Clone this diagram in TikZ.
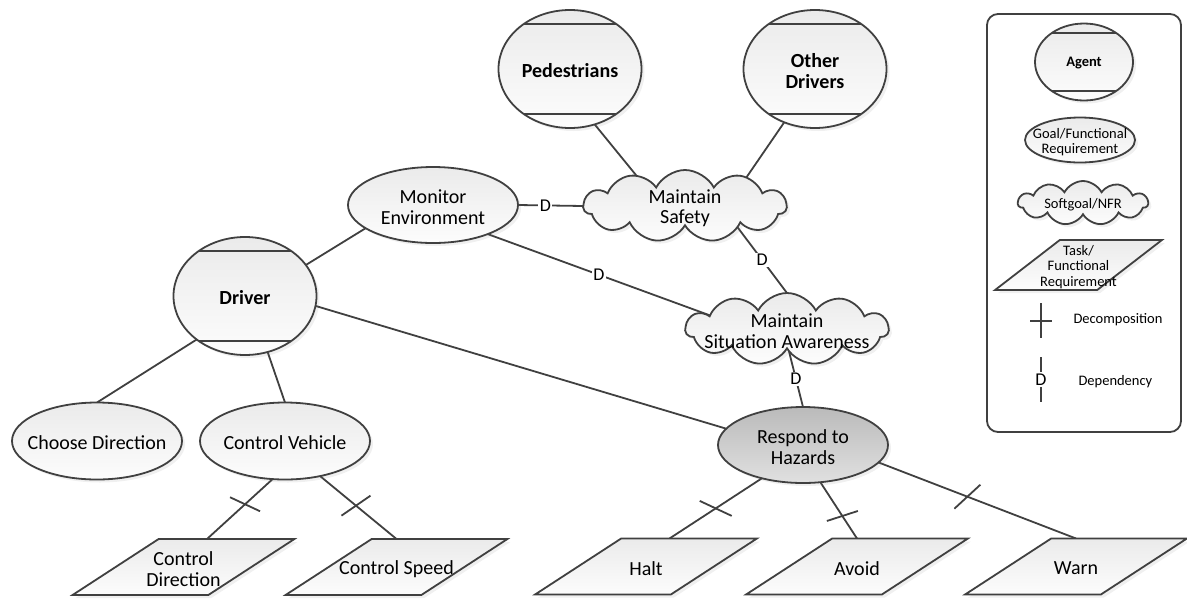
\documentclass[tikz,border=0pt]{standalone}
\usepackage{fontspec}
\setmainfont{Carlito}
\usetikzlibrary{shapes.geometric,shapes.symbols,shadows,calc}
\definecolor{linec}{HTML}{404040}
\pgfdeclarelayer{bg}
\pgfsetlayers{bg,main}
\newcommand{\mainsz}{\fontsize{20}{20.5}\selectfont}
\newcommand{\legsz}{\fontsize{14.5}{15.5}\selectfont}
\newcommand{\dsz}{\fontsize{18}{18}\selectfont}

\begin{document}
\begin{tikzpicture}[x=1pt,y=-1pt,
  base/.style={draw=linec, line width=1.8pt, inner sep=0pt, outer sep=0pt,
    drop shadow={opacity=0.12, shadow xshift=3pt, shadow yshift=-3pt}},
  lightfill/.style={top color=black!8, bottom color=black!1},
  txt/.style={label={[align=center,font=\mainsz,yshift=-2pt]center:{#1}}},
  btxt/.style={label={[align=center,font=\mainsz\bfseries,yshift=-2pt]center:{#1}}},
  ltxt/.style={label={[align=center,font=\legsz,yshift=-2pt]center:{#1}}},
  lbtxt/.style={label={[align=center,font=\legsz\bfseries,yshift=-1pt]center:{#1}}},
  agent/.style={base, lightfill, ellipse, minimum width=143pt, minimum height=118pt,
    path picture={\draw[draw=linec,line width=1.8pt]
      ([yshift=-14pt]path picture bounding box.north west) -- ([yshift=-14pt]path picture bounding box.north east)
      ([yshift=14pt]path picture bounding box.south west) -- ([yshift=14pt]path picture bounding box.south east);}},
  legagent/.style={base, lightfill, ellipse, minimum width=98pt, minimum height=77pt,
    path picture={\draw[draw=linec,line width=1.8pt]
      ([yshift=-9.5pt]path picture bounding box.north west) -- ([yshift=-9.5pt]path picture bounding box.north east)
      ([yshift=9.5pt]path picture bounding box.south west) -- ([yshift=9.5pt]path picture bounding box.south east);}},
  goal/.style={base, lightfill, ellipse, minimum width=170pt, minimum height=76pt},
  hazard/.style={goal, top color=black!27, bottom color=black!12},
  soft/.style={base, lightfill, cloud, cloud puffs=11, cloud puff arc=125, aspect=3,
    minimum width=203pt, minimum height=72pt},
  task/.style={base, lightfill, trapezium, trapezium left angle=60, trapezium right angle=120,
    trapezium stretches=true, inner sep=3pt, minimum width=222pt, minimum height=56pt},
  conn/.style={draw=linec, line width=1.8pt},
  dlab/.style={fill=white, inner sep=1.5pt, font=\dsz},
]
\useasboundingbox (0,0) rectangle (1187,598);

% actors
\node[agent, btxt=Pedestrians] (ped) at (570,69) {};
\node[agent, btxt={Other\\Drivers}] (oth) at (815,69) {};
\node[agent, btxt=Driver] (drv) at (245,296) {};

% goals and softgoals
\node[goal, txt={Monitor\\Environment}] (mon) at (433,205) {};
\node[soft, txt={Maintain\\Safety}] (saf) at (685,206) {};
\node[soft, txt={Maintain\\Situation Awareness}] (sit) at (787,329) {};
\node[hazard, txt={Respond to\\Hazards}] (rsp) at (803,445) {};
\node[goal, minimum height=77pt, txt={Choose Direction}] (cho) at (97,441) {};
\node[goal, minimum height=77pt, txt={Control Vehicle}] (cve) at (285,441) {};

% tasks
\node[task, txt={Control\\Direction}] (cdi) at (183.5,567) {\strut};
\node[task, txt={Control Speed}] (csp) at (396.5,567) {\strut};
\node[task, txt={Halt}] (hal) at (646,566.5) {\strut};
\node[task, txt={Avoid}] (avo) at (857,566.5) {\strut};
\node[task, txt={Warn}] (war) at (1076,566.5) {\strut};

% legend
\node[draw=linec, line width=1.8pt, rounded corners=11pt, minimum width=194pt,
  minimum height=418pt, inner sep=0pt] (leg) at (1084,223) {};
\node[legagent, lbtxt=Agent] (lag) at (1084,62) {};
\node[goal, minimum width=110pt, minimum height=45pt, ltxt={Goal/Functional\\Requirement}] (lgo) at (1080,140) {};
\node[soft, minimum width=130pt, minimum height=44pt, cloud puffs=11, ltxt={Softgoal/NFR}] (lsg) at (1083,203) {};
\node[task, minimum width=167pt, minimum height=50pt, ltxt={Task/\\Functional\\Requirement}] (ltk) at (1078.5,265) {\strut};
\coordinate (dtop) at (1041,303);
\coordinate (dbot) at (1041,338);
\coordinate (dlft) at (1030,321);
\coordinate (drgt) at (1052,321);
\node[anchor=west, font=\legsz] (ldec) at (1070,320) {Decomposition};
\coordinate (etop) at (1041,357);
\coordinate (ebot) at (1041,402);
\node[anchor=west, font=\legsz] (ldep) at (1075,382) {Dependency};

\begin{pgfonlayer}{bg}
  % associations
  \draw[conn] (ped.294) -- (saf.148);
  \draw[conn] (oth.240) -- (saf.25);
  \draw[conn] (drv.27) -- (mon.199);
  \draw[conn] (drv.352) -- (rsp.168);
  \draw[conn] (drv.222) -- (cho.north);
  \draw[conn] (drv.292) -- (cve.north);
  % dependencies
  \draw[conn] (mon.east) -- node[dlab, pos=.42] (d1) {D} (saf.west);
  \draw[conn] (saf.338) -- node[dlab, pos=.5] (d2) {D} (sit.north);
  \draw[conn] (mon.332) -- node[dlab, pos=.5] (d3) {D} (sit.170);
  \draw[conn] (sit.275) -- node[dlab, pos=.5] (d4) {D} (rsp.north);
  % decompositions
  \draw[conn] (cve.252) -- coordinate[pos=.42] (t1) (cdi.50);
  \draw[conn] ($(t1)+(-15,-7)$) -- ($(t1)+(15,7)$);
  \draw[conn] (cve.315) -- coordinate[pos=.47] (t2) (csp.north);
  \draw[conn] ($(t2)+(-14.5,10)$) -- ($(t2)+(14.5,-10)$);
  \draw[conn] (rsp.219) -- coordinate[pos=.5] (t3) (hal.50);
  \draw[conn] ($(t3)+(-16,-7.5)$) -- ($(t3)+(16,7.5)$);
  \draw[conn] (rsp.295) -- coordinate[pos=.6] (t4) (avo.north);
  \draw[conn] ($(t4)+(-15.5,5)$) -- ($(t4)+(15.5,-5)$);
  \draw[conn] (rsp.347) -- coordinate[pos=.45] (t5) (war.north);
  \draw[conn] ($(t5)+(-13,12)$) -- ($(t5)+(13,-12)$);
  % legend symbols
  \draw[conn] (dtop) -- (dbot) (dlft) -- (drgt);
  \draw[conn] (etop) -- node[dlab] (d5) {D} (ebot);
\end{pgfonlayer}
\end{tikzpicture}
\end{document}
